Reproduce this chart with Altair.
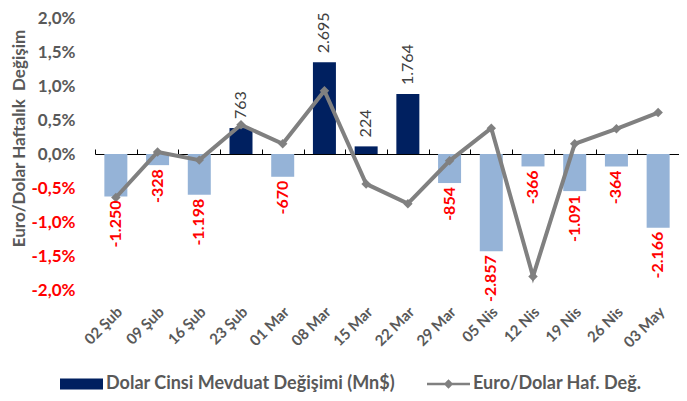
import altair as alt
import pandas as pd

dates = ["02 Şub", "09 Şub", "16 Şub", "23 Şub", "01 Mar", "08 Mar", "15 Mar",
         "22 Mar", "29 Mar", "05 Nis", "12 Nis", "19 Nis", "26 Nis", "03 May"]
deposit_change = [-1250, -328, -1198, 763, -670, 2695, 224, 1764, -854, -2857,
                  -366, -1091, -364, -2166]
eurusd_change = [-0.64, 0.03, -0.09, 0.43, 0.15, 0.93, -0.44, -0.73, -0.10, 0.38,
                 -1.80, 0.15, 0.37, 0.61]

S1 = "Dolar Cinsi Mevduat Değişimi (Mn$)"
S2 = "Euro/Dolar Haf. Değ."

df = pd.DataFrame({"date": dates, "dep": deposit_change, "pct": eurusd_change,
                   "s1": S1, "s2": S2})

FONT = "Lato"
GRAY = "#595959"
H = 272

base = alt.Chart(df).transform_calculate(
    depPct="datum.dep / 2000",
    lbl="(datum.dep < 0 ? '-' : '') + replace(format(abs(datum.dep), ',d'), ',', '.')"
)

xscale = alt.Scale(paddingInner=0, paddingOuter=0)
yscale = alt.Scale(domain=[-2, 2])

y_axis = alt.Axis(values=[-2, -1.5, -1, -0.5, 0, 0.5, 1, 1.5, 2],
                  labelExpr="(datum.value < 0 ? '-' : '') + replace(format(abs(datum.value), '.1f'), '.', ',') + '%'",
                  labelFont=FONT, labelFontWeight="bold", labelFontSize=17,
                  labelColor={"condition": {"test": "datum.value < 0", "value": "#FF0000"},
                              "value": GRAY},
                  domain=False, ticks=False, grid=False, labelPadding=20,
                  titleFont=FONT, titleFontWeight="bold", titleFontSize=17,
                  titleColor=GRAY, titleAngle=270, titleAlign="center",
                  titleBaseline="middle", titleX=-76, titleY=120)
YTITLE = "Euro/Dolar Haftalık \u00a0Değişim"


def ycode(field):
    return alt.Y(field, scale=yscale, axis=y_axis, title=YTITLE)


x_labels = alt.X("date:N", sort=dates, scale=xscale, title=None,
                 axis=alt.Axis(labelAngle=-45, domain=False, ticks=False,
                               labelFont=FONT, labelFontWeight="bold",
                               labelFontSize=15, labelColor=GRAY, labelPadding=14,
                               labelOffset=-1))

legend_common = dict(title=None, orient="none", labelFont=FONT, labelFontWeight="bold",
                     labelFontSize=18, labelColor=GRAY, labelLimit=500,
                     symbolSize=1849, symbolStrokeWidth=0, labelOffset=3)

bars = base.mark_bar(size=23).encode(
    x=x_labels,
    y=ycode("depPct:Q"),
    color=alt.condition(
        "datum.dep < 0",
        alt.value("#95B3D7"),
        alt.Color("s1:N", scale=alt.Scale(range=["#002060"]),
                  legend=alt.Legend(legendX=-35, legendY=344.5,
                                    symbolType="M-1,-0.256L1,-0.256L1,0.256L-1,0.256Z",
                                    **legend_common)),
    ),
)

x_zero = alt.X("date:N", sort=dates, scale=xscale, title=None,
               axis=alt.Axis(labels=False, domain=True, domainColor="#000000",
                             domainWidth=1, ticks=True, tickColor="#000000",
                             tickWidth=1, tickSize=5, tickBand="extent",
                             offset=-H / 2, grid=False))

line = base.mark_line(strokeWidth=4).encode(
    x=x_zero,
    y=ycode("pct:Q"),
    stroke=alt.Stroke("s2:N", scale=alt.Scale(range=["#808080"]),
                      legend=alt.Legend(legendX=332, legendY=344.5,
                                        symbolType="M-1,-0.06L1,-0.06L1,0.06L-1,0.06Z M0,-0.22L0.22,0L0,0.22L-0.22,0Z",
                                        symbolFillColor="#808080",
                                        **legend_common)),
)

xplain = alt.X("date:N", sort=dates, scale=xscale, axis=None)

points = base.mark_point(shape="diamond", filled=True, size=90, opacity=1,
                         color="#808080").encode(
    x=xplain,
    y=ycode("pct:Q"),
)

pos_text = base.transform_filter("datum.dep >= 0").mark_text(
    angle=270, align="left", baseline="middle", dx=9,
    font=FONT, fontSize=16, color="#404040"
).encode(
    x=xplain,
    y=ycode("depPct:Q"),
    text="lbl:N",
)

neg_text = base.transform_filter("datum.dep < 0").mark_text(
    angle=270, align="right", baseline="middle", dx=-4,
    font=FONT, fontSize=16, fontWeight="bold", color="#FF0000"
).encode(
    x=xplain,
    y=ycode("depPct:Q"),
    text="lbl:N",
)

chart = alt.layer(bars, line, points, pos_text, neg_text).resolve_axis(
    x="independent"
).properties(
    width=584, height=H,
    autosize=alt.AutoSizeParams(type="none"),
    padding={"left": 87, "top": 10, "right": 0, "bottom": 103},
).configure_view(stroke=None)

chart.save("out.html", embed_options={"renderer": "svg", "actions": False})
